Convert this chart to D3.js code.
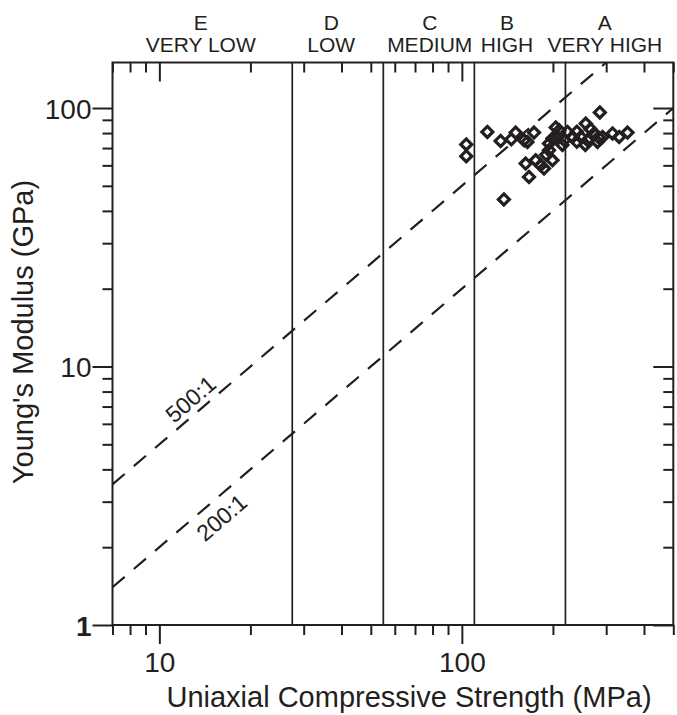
<!DOCTYPE html>
<html><head><meta charset="utf-8">
<script src="https://cdn.jsdelivr.net/npm/d3@7"></script>
<style>body{margin:0;background:#fff}svg{display:block;font-family:"Liberation Sans",Arial,sans-serif}</style>
</head><body>
<svg id="c" width="677" height="715"></svg>
<script>
// ---- data ----
const ucs = [285.8,121.4,103.4,103.4,134.3,145.7,150.6,160.5,164.7,173.2,204.3,137.7,162.5,166.7,175.4,186.9,199.3,194.1,199.3,194.1,223.4,232.1,256.8,247.2,260.2,273.6,280.8,291.7,314.8,331.1,352.9,206.9,182.2,210,218,240,266,190,215,240,256,283];
const youngs = [96.1,80.8,72.3,65.1,74.6,75.7,80.4,75.1,73.9,80.4,84.1,44.3,61.0,54.1,62.8,58.3,62.8,72.9,76.2,68.7,80.8,77.3,87.1,77.3,75.1,79.7,73.9,77.3,79.7,77.3,80.4,77.3,60.1,82,75,81,83,66,72,74,72,77];
const classBounds = [27.5, 55, 110, 220];
const classLetters = ["E","D","C","B","A"];
const classNames = ["VERY LOW","LOW","MEDIUM","HIGH","VERY HIGH"];
const classLabelAt = [13.7, 37, 78.3, 141, 297];
const ratios = [500, 200];
const ratioLabels = ["500:1", "200:1"];
const ratioLabelAt = [13.6, 14.7];
const xTickVals = [7,8,9,10,20,30,40,50,60,70,80,90,100,200,300,400,500];
const xTickLabels = {10:"10", 100:"100"};
const yTickVals = [1,2,3,4,5,6,7,8,9,10,20,30,40,50,60,70,80,90,100];
const yTickLabels = {1:"1", 10:"10", 100:"100"};

// ---- layout ----
const L = 112.5, R = 673.3, T = 62.5, B = 625;
const x = d3.scaleLog().domain([7, 500]).range([L, R]);
const y = d3.scaleLog().domain([1, 150]).range([B, T]);
const ink = "#231f20";
const svg = d3.select("#c");

svg.append("defs").append("clipPath").attr("id","clip")
  .append("rect").attr("x",L).attr("y",T).attr("width",R-L).attr("height",B-T);

// class boundaries
svg.append("g").selectAll("line").data(classBounds).join("line")
  .attr("x1",d=>x(d)).attr("x2",d=>x(d)).attr("y1",T).attr("y2",B)
  .attr("stroke",ink).attr("stroke-width",1.7);

// ratio lines
const ang = Math.atan2(y(1)-y(10), x(10)-x(1)) * 180/Math.PI;
const gr = svg.append("g").attr("clip-path","url(#clip)");
ratios.forEach(r => {
  const xs = [7, 500];
  gr.append("line")
    .attr("x1", x(xs[0])).attr("y1", y(xs[0]*r/1000))
    .attr("x2", x(xs[1])).attr("y2", y(xs[1]*r/1000))
    .attr("stroke",ink).attr("stroke-width",2.2).attr("stroke-dasharray","16,12");
});
ratios.forEach((r,i) => {
  const u = ratioLabelAt[i];
  svg.append("text")
    .attr("transform", `translate(${x(u)},${y(u*r/1000)}) rotate(${-ang})`)
    .attr("text-anchor","middle").attr("dy", i===0 ? -6 : 26)
    .attr("font-size",23).attr("fill",ink).text(ratioLabels[i]);
});

// points
svg.append("g").selectAll("path").data(ucs).join("path")
  .attr("transform",(d,i)=>`translate(${x(d)},${y(youngs[i])})`)
  .attr("d","M0,-5.5L5.5,0L0,5.5L-5.5,0Z")
  .attr("fill","none").attr("stroke",ink).attr("stroke-width",3.2);

// frame
svg.append("rect").attr("x",L).attr("y",T).attr("width",R-L).attr("height",B-T)
  .attr("fill","none").attr("stroke",ink).attr("stroke-width",2);

// axes
const isMajor = v => Math.abs(Math.log10(v) - Math.round(Math.log10(v))) < 1e-9;
const fmtX = v => xTickLabels[v] || "";
const fmtY = v => yTickLabels[v] || "";
function styleAxis(g){ g.select(".domain").remove(); g.selectAll(".tick line").attr("stroke",ink).attr("stroke-width",2); }

const gb = svg.append("g").attr("transform",`translate(0,${B})`)
  .call(d3.axisBottom(x).tickValues(xTickVals).tickFormat(fmtX).tickSize(10).tickPadding(0));
gb.call(styleAxis);
gb.selectAll(".tick line").attr("y2", d => isMajor(d) ? 19 : 10);
gb.selectAll(".tick text").attr("font-size",28).attr("fill",ink).attr("font-family",null).attr("dy",null).attr("y",47);

const gt = svg.append("g").attr("transform",`translate(0,${T})`)
  .call(d3.axisTop(x).tickValues(xTickVals).tickFormat("").tickSize(0));
gt.call(styleAxis);
gt.selectAll(".tick line").attr("y2", d => isMajor(d) ? 19 : 10);

const gl = svg.append("g").attr("transform",`translate(${L},0)`)
  .call(d3.axisLeft(y).tickValues(yTickVals).tickFormat(fmtY).tickSize(10).tickPadding(0));
gl.call(styleAxis);
gl.selectAll(".tick line").attr("x2", d => isMajor(d) ? -20 : -10);
gl.selectAll(".tick text").attr("font-size",28).attr("fill",ink).attr("font-family",null)
  .attr("x",-21).attr("dy","0.36em").attr("font-weight", d => d===1 ? "bold" : null);

const gr2 = svg.append("g").attr("transform",`translate(${R},0)`)
  .call(d3.axisRight(y).tickValues(yTickVals).tickFormat("").tickSize(0));
gr2.call(styleAxis);
gr2.selectAll(".tick line").attr("x2", d => isMajor(d) ? -20 : -10);

// class labels
const gc = svg.append("g").attr("font-size",21).attr("fill",ink).attr("text-anchor","middle");
classLetters.forEach((c,i) => {
  gc.append("text").attr("x",x(classLabelAt[i])).attr("y",30).text(c);
  gc.append("text").attr("x",x(classLabelAt[i])).attr("y",52).text(classNames[i]);
});

// titles
svg.append("text").attr("x",409).attr("y",707).attr("text-anchor","middle")
  .attr("font-size",29).attr("fill",ink).text("Uniaxial Compressive Strength (MPa)");
svg.append("text").attr("transform","translate(33,332) rotate(-90)").attr("text-anchor","middle")
  .attr("font-size",29).attr("fill",ink).text("Young's Modulus (GPa)");
</script>
</body></html>
